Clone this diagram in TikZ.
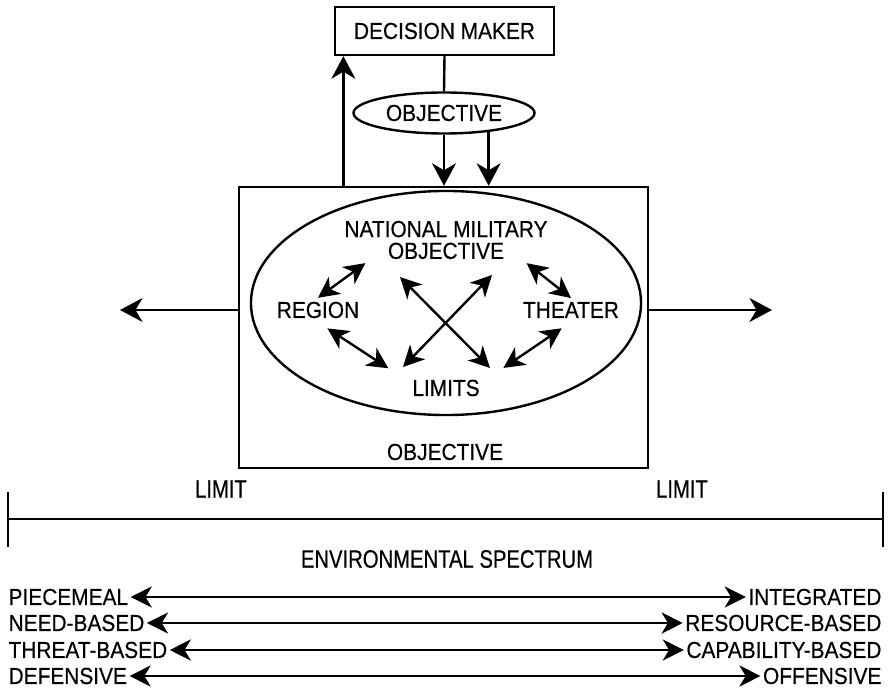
\documentclass[tikz,border=0pt]{standalone}
\usepackage{fontspec}
\setmainfont{Liberation Sans}[FakeStretch=0.9,FakeBold=0.4]
\newfontfamily\narrowfont[FakeStretch=0.8,FakeBold=0.4]{Liberation Sans}
\usetikzlibrary{shapes.geometric,arrows.meta}

\begin{document}
\begin{tikzpicture}[x=0.025cm,y=-0.025cm,line width=1.7pt,
   txt/.style={font=\fontsize{16.5}{15.5}\selectfont,inner sep=2pt},
   wide/.style={font=\narrowfont\fontsize{18}{18}\selectfont,inner sep=1pt},
   arr/.style={-{Stealth[length=16pt,width=17pt,inset=5pt]}},
   dbl/.style={{Stealth[length=15pt,width=15pt,inset=4.5pt]}-{Stealth[length=15pt,width=15pt,inset=4.5pt]}}]
   \useasboundingbox (0,0) rectangle (894,690);
   % top: decision maker and objective
   \node[draw,txt,minimum width=5.475cm,minimum height=1.2cm] (dm) at (444.5,31) {DECISION MAKER};
   \node[draw,ellipse,txt,minimum width=4.525cm,minimum height=1.025cm] (obj) at (444,113) {OBJECTIVE};
   \node[draw,minimum width=10.225cm,minimum height=7.025cm] (frame) at (443.5,327.5) {};
   \node[draw,ellipse,minimum width=9.75cm,minimum height=5.6cm] (field) at (446,303) {};
   \draw (dm.south) -- (obj.north);
   \draw[arr] (obj.south) -- (obj.south |- frame.north);
   \draw[arr] (obj.-23) -- (obj.-23 |- frame.north);
   \draw[arr] (dm.194 |- frame.north) -- (dm.194);
   % inside the ellipse
   \node[txt,align=center] (nmo) at (446,240) {NATIONAL MILITARY\\OBJECTIVE};
   \node[txt] (region) at (318,310) {REGION};
   \node[txt] (theater) at (571,310) {THEATER};
   \node[txt] (limits) at (446,388) {LIMITS};
   \node[txt] (goal) at (445,452) {OBJECTIVE};
   \draw[dbl] (nmo.196) -- (region.north);
   \draw[dbl] (nmo.-16) -- (theater.north);
   \draw[dbl,shorten <=8pt,shorten >=17pt] (region.south) -- (limits.170);
   \draw[dbl,shorten <=8pt,shorten >=17pt] (theater.south) -- (limits.10);
   \coordinate (c1) at (400,277);
   \coordinate (c2) at (490,368);
   \coordinate (c3) at (492,275);
   \coordinate (c4) at (403,367);
   \draw[dbl] (c1) -- (c2);
   \draw[dbl] (c3) -- (c4);
   % side arrows
   \coordinate (lend) at (120,310);
   \coordinate (rend) at (772,310);
   \draw[arr] (frame.west |- lend) -- (lend);
   \draw[arr] (frame.east |- rend) -- (rend);
   % environmental spectrum
   \node[wide] (llim) at (221,489) {LIMIT};
   \node[wide] (rlim) at (682,489) {LIMIT};
   \draw (8,492) -- (8,547) (8,519) -- (883,519) (883,492) -- (883,547);
   \node[wide] (env) at (447,559) {ENVIRONMENTAL SPECTRUM};
   % bottom scales
   \foreach \y/\a/\b [count=\i] in {597/PIECEMEAL/INTEGRATED,623/NEED-BASED/RESOURCE-BASED,650/THREAT-BASED/CAPABILITY-BASED,676/DEFENSIVE/OFFENSIVE}
   {
      \node[txt,anchor=west,inner sep=1pt] (lo\i) at (6,\y) {\a};
      \node[txt,anchor=east,inner sep=1pt] (hi\i) at (884,\y) {\b};
      \draw[dbl] (lo\i) -- (hi\i);
   }
\end{tikzpicture}
\end{document}
